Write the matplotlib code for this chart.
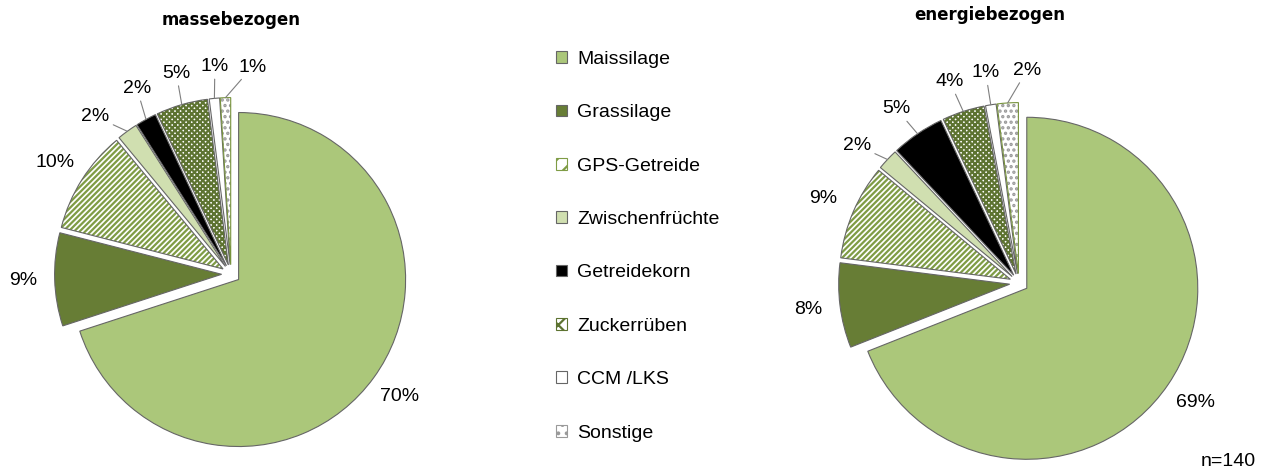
import numpy as np
import matplotlib

matplotlib.use("Agg")
import matplotlib.pyplot as plt
from matplotlib.patches import Patch, Wedge

plt.rcParams["font.family"] = ["Liberation Sans", "DejaVu Sans"]
plt.rcParams["hatch.linewidth"] = 1.6

categories = ["Maissilage", "Grassilage", "GPS-Getreide", "Zwischenfrüchte",
              "Getreidekorn", "Zuckerrüben", "CCM /LKS", "Sonstige"]
masse_pct = [70, 9, 10, 2, 2, 5, 1, 1]
energie_pct = [69, 8, 9, 2, 5, 4, 1, 2]
titles = ["massebezogen", "energiebezogen"]
n_text = "n=140"

# look of each category (fill, hatch, hatch colour, outline)
FACES = ["#abc77a", "#677d35", "white", "#d0dfb0", "black", "white", "white", "white"]
HATCHES = [None, None, "//////", None, None, "xxxxxx", None, "..."]
HATCH_COL = [None, None, "#7f9c45", None, None, "#5d7331", None, "#9a9a9a"]
EDGES = ["#666666"] * 7 + ["#77933c"]

W, H = 1275, 472
FS = 14


def draw_pie(ax, values, center, radius, expl, shifts):
    wedges, _ = ax.pie(values, colors=FACES, startangle=90, counterclock=False,
                       center=center, radius=radius, explode=[expl] * len(values),
                       wedgeprops=dict(linewidth=0.8))
    for i, w in enumerate(wedges):
        w.set_edgecolor(EDGES[i])
        if HATCHES[i]:
            w.set_hatch(HATCHES[i])
            w.set_edgecolor(HATCH_COL[i])
            w.set_linewidth(0)
            ax.add_patch(Wedge(w.center, w.r, w.theta1, w.theta2, fill=False,
                               edgecolor=EDGES[i], lw=0.8))

    for w, v, s in zip(wedges, values, shifts):
        mid = np.deg2rad((w.theta1 + w.theta2) / 2)
        ang = mid + np.deg2rad(s)
        cx, cy = w.center
        tx = cx + 1.19 * radius * np.cos(ang)
        ty = cy + 1.19 * radius * np.sin(ang)
        lab = f"{v}%"
        if v <= 5:
            ax.annotate(lab, xy=(cx + radius * np.cos(mid), cy + radius * np.sin(mid)),
                        xytext=(tx, ty), ha="center", va="center", fontsize=FS,
                        arrowprops=dict(arrowstyle="-", color="#7f7f7f", lw=0.8,
                                        shrinkA=1, shrinkB=0))
        else:
            ax.text(tx, ty, lab, ha="center", va="center", fontsize=FS)
    return wedges


fig = plt.figure(figsize=(W / 100, H / 100), dpi=100)
ax = fig.add_axes([0, 0, 1, 1])

draw_pie(ax, masse_pct, (231, H - 274), 167, 9.4, [0, 0, 0, 5, -2, -1, -1, -8])
draw_pie(ax, energie_pct, (1019, H - 283), 171, 9.4, [0, 0, 0, 3, 1, 1, 0, -6])

ax.set_xlim(0, W)
ax.set_ylim(0, H)
ax.set_aspect("equal")
ax.axis("off")

fig.text(231 / W, 1 - 20 / H, titles[0], ha="center", va="center",
         fontsize=12, fontweight="bold", family="DejaVu Sans")
fig.text(990 / W, 1 - 15 / H, titles[1], ha="center", va="center",
         fontsize=12, fontweight="bold", family="DejaVu Sans")
fig.text(1228 / W, 1 - 462 / H, n_text, ha="center", va="center", fontsize=FS)

handles = [Patch(facecolor=FACES[i], hatch=HATCHES[i] and HATCHES[i][:2],
                 edgecolor=HATCH_COL[i] or EDGES[i], lw=0.8)
           for i in range(len(categories))]
ax.legend(handles, categories, loc="upper left",
          bbox_to_anchor=(556 / W, 1 - 51 / H), bbox_transform=fig.transFigure,
          frameon=False, fontsize=FS, handlelength=0.55, handleheight=0.55,
          handletextpad=0.55, labelspacing=1.87, borderpad=0, borderaxespad=0)

fig.savefig("out.png", dpi=100, facecolor="white")
